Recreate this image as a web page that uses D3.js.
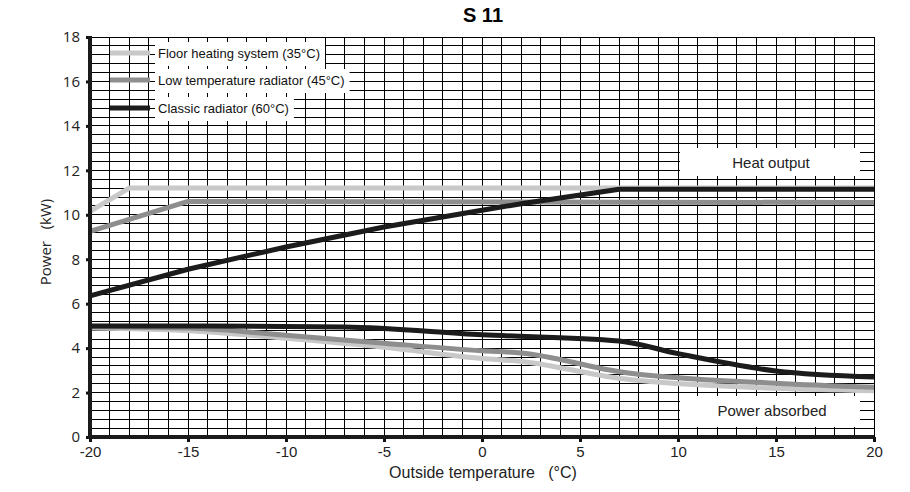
<!DOCTYPE html>
<html>
<head>
<meta charset="utf-8">
<script src="https://cdn.jsdelivr.net/npm/d3@7"></script>
<style>
  body { margin: 0; background: #fff; }
  svg { display: block; }
</style>
</head>
<body>
<div id="chart"></div>
<script>
// Data
var xTicks = [-20, -15, -10, -5, 0, 5, 10, 15, 20];
var yTicks = [0, 2, 4, 6, 8, 10, 12, 14, 16, 18];

// heat output curves [temp, kW]
var floorHeat = [[-20, 10.15], [-18, 11.2], [20, 11.2]];
var lowTempHeat = [[-20, 9.25], [-15, 10.6], [20, 10.55]];
var classicHeat = [[-20, 6.35], [-15, 7.55], [-10, 8.55], [-5, 9.45], [0, 10.2], [2, 10.5], [7, 11.15], [20, 11.15]];

// power absorbed curves [temp, kW]
var floorAbs = [[-20, 4.9], [-15, 4.78], [-10, 4.44], [-5, 4.04], [0, 3.53], [2, 3.4], [7, 2.64], [15, 2.19], [20, 2.08]];
var lowTempAbs = [[-20, 4.96], [-15, 4.9], [-10, 4.58], [-5, 4.22], [0, 3.88], [2, 3.78], [7, 2.94], [15, 2.42], [20, 2.24]];
var classicAbs = [[-20, 5.0], [-15, 5.0], [-7, 4.95], [0, 4.6], [7, 4.32], [10, 3.75], [15, 2.97], [20, 2.7]];

var seriesNames = ["Floor heating system (35°C)", "Low temperature radiator (45°C)", "Classic radiator (60°C)"];
var seriesColors = ["#c8c8c8", "#8e8e8e", "#1c1c1c"];

// Dimensions
var width = 910, height = 492;
var margin = {top: 37, right: 36, bottom: 55, left: 90};

var svg = d3.select('#chart')
    .append('svg')
    .attr('width', width)
    .attr('height', height);

var x = d3.scaleLinear().domain([-20, 20]).range([margin.left, width - margin.right]);
var y = d3.scaleLinear().domain([0, 18]).range([height - margin.bottom, margin.top]);

// plain hyphen for negatives, like the original
var fmt = d => String(d);

// Title
svg.append('text')
    .attr('x', 483).attr('y', 22)
    .attr('text-anchor', 'middle')
    .attr('font-family', 'Liberation Sans, Arial, sans-serif')
    .attr('font-weight', 'bold')
    .attr('font-size', 20)
    .text('S 11');

// Grid
var grid = svg.append('g').attr('stroke', '#000').attr('stroke-width', 1).attr('shape-rendering', 'crispEdges');
grid.selectAll('line.v')
    .data(d3.range(-20, 21, 1))
    .enter().append('line')
    .attr('x1', d => x(d)).attr('x2', d => x(d))
    .attr('y1', y(0)).attr('y2', y(18));
grid.selectAll('line.h')
    .data(d3.range(0, 45.5, 1).map(d => d * 0.4))
    .enter().append('line')
    .attr('x1', x(-20)).attr('x2', x(20))
    .attr('y1', d => y(d)).attr('y2', d => y(d));

// White label boxes over the grid
function whiteBox(x0, y0, w, h) {
    svg.append('rect').attr('x', x0).attr('y', y0).attr('width', w).attr('height', h).attr('fill', '#fff');
}
whiteBox(680, 148, 180, 28);
whiteBox(680, 396, 180, 31);

svg.append('text')
    .attr('x', 771).attr('y', 168)
    .attr('text-anchor', 'middle')
    .attr('font-family', 'Liberation Sans, Arial, sans-serif')
    .attr('font-size', 15)
    .attr('fill', '#222')
    .text('Heat output');
svg.append('text')
    .attr('x', 772).attr('y', 416)
    .attr('text-anchor', 'middle')
    .attr('font-family', 'Liberation Sans, Arial, sans-serif')
    .attr('font-size', 15)
    .attr('fill', '#222')
    .text('Power absorbed');

// Curves
var lineStraight = d3.line().x(d => x(d[0])).y(d => y(d[1]));
var lineSmooth = d3.line().x(d => x(d[0])).y(d => y(d[1])).curve(d3.curveMonotoneX);

var curves = [
    {data: floorAbs, c: 0, gen: lineSmooth},
    {data: lowTempAbs, c: 1, gen: lineSmooth},
    {data: classicAbs, c: 2, gen: lineSmooth},
    {data: floorHeat, c: 0, gen: lineStraight},
    {data: lowTempHeat, c: 1, gen: lineStraight},
    {data: classicHeat, c: 2, gen: lineStraight}
];
svg.append('g').selectAll('path')
    .data(curves)
    .enter().append('path')
    .attr('d', d => d.gen(d.data))
    .attr('fill', 'none')
    .attr('stroke', d => seriesColors[d.c])
    .attr('stroke-width', 5)
    .attr('stroke-linejoin', 'round');

// Legend
var legendY = [53, 80, 108];
var legend = svg.append('g');
seriesNames.forEach(function(name, i) {
    var t = legend.append('text')
        .attr('x', 158).attr('y', legendY[i] + 5)
        .attr('font-family', 'Liberation Sans, Arial, sans-serif')
        .attr('font-size', 13)
        .attr('fill', '#111')
        .text(name);
    var bb = t.node().getBBox();
    legend.insert('rect', 'text')
        .attr('x', bb.x - 3).attr('y', legendY[i] - 11)
        .attr('width', bb.width + 8).attr('height', 24)
        .attr('fill', '#fff');
    legend.append('line')
        .attr('x1', 110).attr('x2', 150)
        .attr('y1', legendY[i]).attr('y2', legendY[i])
        .attr('stroke', seriesColors[i])
        .attr('stroke-width', 5);
});

// Axes
var yAxis = d3.axisLeft(y).tickValues(yTicks).tickSize(4).tickFormat(fmt);
var xAxis = d3.axisBottom(x).tickValues(xTicks).tickSize(5).tickFormat(fmt);

var gy = svg.append('g').attr('transform', 'translate(' + x(-20) + ',0)').call(yAxis);
gy.select('.domain').remove();
gy.selectAll('.tick line').attr('stroke', '#111').attr('stroke-width', 3);
gy.selectAll('.tick text')
    .attr('x', -10)
    .attr('font-family', 'Open Sans, sans-serif')
    .attr('font-size', 15)
    .attr('fill', '#222');

var gx = svg.append('g').attr('transform', 'translate(0,' + y(0) + ')').call(xAxis);
gx.select('.domain').remove();
gx.selectAll('.tick line').attr('stroke', '#111').attr('stroke-width', 3);
gx.selectAll('.tick text')
    .attr('y', 9)
    .attr('font-family', 'Liberation Sans Narrow, Arial Narrow, sans-serif')
    .attr('font-size', 15)
    .attr('fill', '#222');

// Thick axis lines
svg.append('line')
    .attr('x1', x(-20)).attr('x2', x(-20))
    .attr('y1', y(18) - 1).attr('y2', y(0) + 2)
    .attr('stroke', '#1a1a1a').attr('stroke-width', 4);
svg.append('line')
    .attr('x1', x(-20) - 2).attr('x2', x(20))
    .attr('y1', y(0)).attr('y2', y(0))
    .attr('stroke', '#1a1a1a').attr('stroke-width', 4);

// Axis titles
svg.append('text')
    .attr('x', 483).attr('y', 478)
    .attr('text-anchor', 'middle')
    .attr('font-family', 'Liberation Sans Narrow, Arial Narrow, sans-serif')
    .attr('font-size', 16)
    .attr('fill', '#222')
    .attr('xml:space', 'preserve')
    .text('Outside temperature   (°C)');
svg.append('text')
    .attr('transform', 'translate(51,' + 242 + ') rotate(-90)')
    .attr('text-anchor', 'middle')
    .attr('font-family', 'Open Sans, sans-serif')
    .attr('font-size', 15)
    .attr('fill', '#222')
    .attr('xml:space', 'preserve')
    .text('Power   (kW)');
</script>
</body>
</html>
